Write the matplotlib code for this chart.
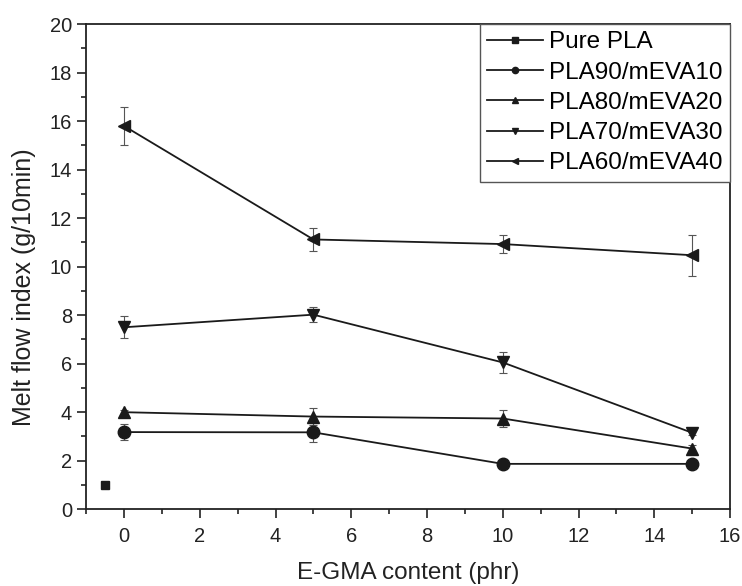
import matplotlib
matplotlib.use("Agg")
import matplotlib.pyplot as plt
from matplotlib.ticker import MultipleLocator
from matplotlib.lines import Line2D

plt.rcParams['font.family'] = ['Liberation Sans', 'DejaVu Sans']

x_content = [0, 5, 10, 15]
pure_x = [-0.5]
pure_y = [1.0]

pla90 = [3.18, 3.17, 1.87, 1.87]
pla90_err = [0.32, 0.38, 0.1, 0.1]
pla80 = [4.0, 3.82, 3.74, 2.5]
pla80_err = [0.1, 0.34, 0.37, 0.15]
pla70 = [7.5, 8.02, 6.05, 3.15]
pla70_err = [0.45, 0.3, 0.45, 0.1]
pla60 = [15.8, 11.12, 10.93, 10.47]
pla60_err = [0.78, 0.47, 0.38, 0.85]

labels = ['Pure PLA', 'PLA90/mEVA10', 'PLA80/mEVA20', 'PLA70/mEVA30', 'PLA60/mEVA40']
markers = ['s', 'o', '^', 'v', '<']

fig = plt.figure(figsize=(7.42, 5.86), dpi=100)
ax = fig.add_axes([0.116, 0.131, 0.868, 0.828])

col = '#1a1a1a'
ax.errorbar(pure_x, pure_y, fmt='s', color=col, ms=6, label=labels[0])
series = [(pla90, pla90_err), (pla80, pla80_err), (pla70, pla70_err), (pla60, pla60_err)]
for (ys, es), lab, mk in zip(series, labels[1:], markers[1:]):
    ax.errorbar(x_content, ys, yerr=es, fmt='-', marker=mk, color=col, ms=9,
                lw=1.3, elinewidth=0.8, capsize=3, capthick=0.8, ecolor='#555555',
                label=lab)

ax.set_xlim(-1, 16)
ax.set_ylim(0, 20)
ax.xaxis.set_major_locator(MultipleLocator(2))
ax.xaxis.set_minor_locator(MultipleLocator(1))
ax.yaxis.set_major_locator(MultipleLocator(2))
ax.yaxis.set_minor_locator(MultipleLocator(1))
ax.tick_params(which='major', direction='out', length=6.5, width=1.2, labelsize=14.5,
               colors='#222222', top=False, right=False)
ax.tick_params(which='minor', direction='out', length=3.5, width=1.2,
               colors='#222222', top=False, right=False)
ax.tick_params(axis='x', which='major', pad=6)
ax.tick_params(axis='y', which='major', pad=3.5)
for s in ax.spines.values():
    s.set_linewidth(1.3)
    s.set_color('#222222')

ax.set_xlabel('E-GMA content (phr)', fontsize=17.5, color='#222222', labelpad=12)
ax.set_ylabel('Melt flow index (g/10min)', fontsize=18, color='#222222')
ax.yaxis.set_label_coords(-0.078, 0.458)

leg_handles = [Line2D([], [], color=col, marker=m, ms=4.5, lw=1.3) for m in markers]
leg = ax.legend(leg_handles, labels, loc='upper right', fontsize=17.5, frameon=True,
                fancybox=False, edgecolor='#555555', framealpha=1,
                handlelength=2.3, handletextpad=0.25, borderpad=0.3,
                labelspacing=0.34, borderaxespad=0.0)
leg.get_frame().set_linewidth(1.0)

fig.savefig('out.png', dpi=100)
